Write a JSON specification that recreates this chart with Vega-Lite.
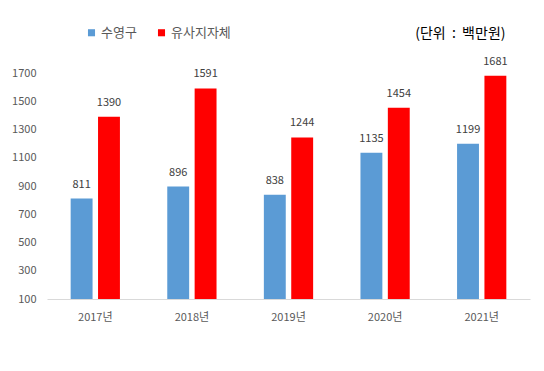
{
  "$schema": "https://vega.github.io/schema/vega-lite/v6.json",
  "width": 483,
  "height": 226,
  "autosize": {"type": "none"},
  "padding": {"left": 47, "top": 73, "right": 14, "bottom": 72},
  "background": "white",
  "config": {
    "font": "Noto Sans CJK KR",
    "view": {"stroke": null}
  },
  "data": {
    "values": [
      {"year": "2017년", "series": "수영구", "value": 811},
      {"year": "2017년", "series": "유사지자체", "value": 1390},
      {"year": "2018년", "series": "수영구", "value": 896},
      {"year": "2018년", "series": "유사지자체", "value": 1591},
      {"year": "2019년", "series": "수영구", "value": 838},
      {"year": "2019년", "series": "유사지자체", "value": 1244},
      {"year": "2020년", "series": "수영구", "value": 1135},
      {"year": "2020년", "series": "유사지자체", "value": 1454},
      {"year": "2021년", "series": "수영구", "value": 1199},
      {"year": "2021년", "series": "유사지자체", "value": 1681}
    ]
  },
  "encoding": {
    "x": {
      "field": "year", "type": "nominal",
      "scale": {"paddingInner": 0.49, "paddingOuter": 0.245},
      "axis": {
        "title": null, "labelAngle": 0, "ticks": false,
        "domainColor": "#D9D9D9", "domainWidth": 1,
        "labelColor": "#595959", "labelFontSize": 11, "labelPadding": 12
      }
    },
    "xOffset": {
      "field": "series", "type": "nominal",
      "scale": {"paddingInner": 0.2, "paddingOuter": 0}
    },
    "y": {
      "field": "value", "type": "quantitative",
      "scale": {"domain": [100, 1700], "zero": false, "nice": false},
      "axis": {
        "title": "(단위\u00a0\u00a0:\u00a0\u00a0백만원)",
        "titleAngle": 0, "titleX": 458, "titleY": -40,
        "titleAlign": "right", "titleBaseline": "middle",
        "titleFontSize": 14, "titleFontWeight": "normal", "titleColor": "#000000",
        "values": [100, 300, 500, 700, 900, 1100, 1300, 1500, 1700],
        "format": "d",
        "grid": false, "domain": false, "ticks": false,
        "labelColor": "#595959", "labelFontSize": 11, "labelPadding": 11
      }
    }
  },
  "layer": [
    {
      "mark": {"type": "bar"},
      "encoding": {
        "y2": {"datum": 100},
        "color": {
          "field": "series", "type": "nominal",
          "scale": {"domain": ["수영구", "유사지자체"], "range": ["#5B9BD5", "#FF0000"]},
          "legend": {
            "title": null, "orient": "none", "direction": "horizontal",
            "legendX": 38, "legendY": -47,
            "symbolType": "square", "symbolSize": 50,
            "labelFontSize": 13, "labelColor": "#595959",
            "columnPadding": 18, "labelOffset": 3
          }
        }
      }
    },
    {
      "mark": {"type": "text", "dy": -9, "fontSize": 11, "color": "#404040", "baseline": "bottom"},
      "encoding": {
        "text": {"field": "value", "type": "quantitative"}
      }
    }
  ]
}
